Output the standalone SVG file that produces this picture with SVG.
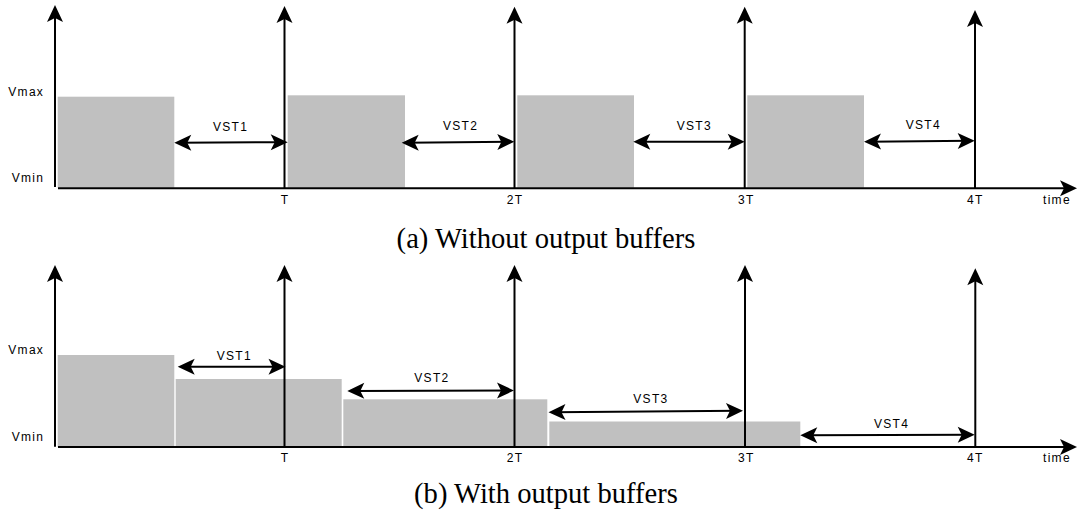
<svg xmlns="http://www.w3.org/2000/svg" width="1078" height="521" viewBox="0 0 1078 521">
<style>
.bg{fill:#ffffff}
.bar{fill:#c0c0c0;stroke:none}
.arr{stroke:#000;stroke-width:2;fill:none;marker-end:url(#ah)}
.dbl{stroke:#000;stroke-width:2;fill:none;marker-start:url(#ah);marker-end:url(#ah)}
.lbl{font-family:"Liberation Sans",Arial,sans-serif;font-size:12px;letter-spacing:1.3px;fill:#000}
.cap{font-family:"Liberation Serif","Times New Roman",serif;font-size:28.6px;fill:#000;text-anchor:middle}
</style>
<defs>
<marker id="ah" markerUnits="userSpaceOnUse" markerWidth="1" markerHeight="1" refX="0" refY="0" orient="auto-start-reverse" overflow="visible">
<path d="M4,0 L-13,-8 L-9,0 L-13,8 Z" fill="#000"/>
</marker>
</defs>
<rect class="bg" x="0" y="0" width="1078" height="521"/>

<!-- Panel (a) -->
<g id="panel-a">
<g id="a-bar1"><rect class="bar" x="57.7" y="96.7" width="116.6" height="91"/></g>
<g id="a-bar2"><rect class="bar" x="287.7" y="95.3" width="117.3" height="92.4"/></g>
<g id="a-bar3"><rect class="bar" x="517.3" y="95.3" width="116.7" height="92.4"/></g>
<g id="a-bar4"><rect class="bar" x="747.3" y="95.3" width="116.7" height="92.4"/></g>

<g id="a-connectors">
<line class="arr" x1="58" y1="188.3" x2="1073" y2="188.3"/>
<line class="arr" x1="55" y1="187" x2="55" y2="9"/>
<line class="arr" x1="284.5" y1="188" x2="284.5" y2="10"/>
<line class="arr" x1="514.5" y1="188" x2="514.5" y2="10.7"/>
<line class="arr" x1="744.7" y1="188" x2="744.7" y2="10.7"/>
<line class="arr" x1="975" y1="188" x2="975" y2="14"/>
<line class="dbl" x1="178.3" y1="142.7" x2="283.7" y2="142.2"/>
<line class="dbl" x1="405.7" y1="142.8" x2="510.3" y2="141.8"/>
<line class="dbl" x1="637.3" y1="141.7" x2="740.7" y2="141.7"/>
<line class="dbl" x1="868" y1="141.7" x2="970.7" y2="140.8"/>
</g>

<g id="a-labels">
<text class="lbl" x="8.3" y="95.5">Vmax</text>
<text class="lbl" x="11.7" y="181.7">Vmin</text>
<text class="lbl" x="213" y="131">VST1</text>
<text class="lbl" x="443" y="130.3">VST2</text>
<text class="lbl" x="676.7" y="130">VST3</text>
<text class="lbl" x="905.7" y="129.3">VST4</text>
<text class="lbl" x="280.8" y="204.3">T</text>
<text class="lbl" x="506.7" y="204.3">2T</text>
<text class="lbl" x="738" y="204.3">3T</text>
<text class="lbl" x="967" y="204.3">4T</text>
<text class="lbl" x="1043" y="204">time</text>
</g>
<text id="cap-a" class="cap" x="546" y="248.3">(a) Without output buffers</text>
</g>

<!-- Panel (b) -->
<g id="panel-b">
<g id="b-bar1"><rect class="bar" x="57.7" y="355" width="116.6" height="92"/></g>
<g id="b-bar2"><rect class="bar" x="175.7" y="379" width="166" height="68"/></g>
<g id="b-bar3"><rect class="bar" x="343.3" y="399.3" width="204" height="47.7"/></g>
<g id="b-bar4"><rect class="bar" x="549.3" y="421.5" width="251" height="25.5"/></g>

<g id="b-connectors">
<line class="arr" x1="58" y1="447" x2="1073" y2="447"/>
<line class="arr" x1="55" y1="446.7" x2="55" y2="269"/>
<line class="arr" x1="284.5" y1="447" x2="284.5" y2="269"/>
<line class="arr" x1="514.5" y1="447" x2="514.5" y2="269"/>
<line class="arr" x1="745" y1="447" x2="745" y2="269"/>
<line class="arr" x1="975.3" y1="447" x2="975.3" y2="272.3"/>
<line class="dbl" x1="181.7" y1="366.7" x2="281.5" y2="366.7"/>
<line class="dbl" x1="351.3" y1="390.9" x2="510" y2="390.5"/>
<line class="dbl" x1="552.5" y1="412.2" x2="739" y2="410.8"/>
<line class="dbl" x1="804.3" y1="435.2" x2="970.7" y2="434.8"/>
</g>

<g id="b-labels">
<text class="lbl" x="8.3" y="354">Vmax</text>
<text class="lbl" x="11.7" y="440.7">Vmin</text>
<text class="lbl" x="216.7" y="360">VST1</text>
<text class="lbl" x="414.3" y="382.3">VST2</text>
<text class="lbl" x="633.3" y="403.3">VST3</text>
<text class="lbl" x="874" y="427.7">VST4</text>
<text class="lbl" x="280.8" y="461.7">T</text>
<text class="lbl" x="506.7" y="461.7">2T</text>
<text class="lbl" x="738" y="461.7">3T</text>
<text class="lbl" x="967" y="461.7">4T</text>
<text class="lbl" x="1043" y="461.7">time</text>
</g>
<text id="cap-b" class="cap" x="546" y="503.3">(b) With output buffers</text>
</g>
</svg>
